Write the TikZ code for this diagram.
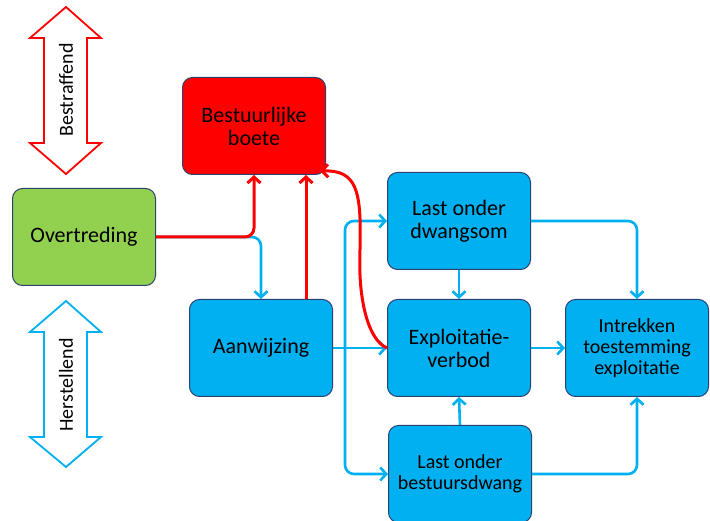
\documentclass[tikz,border=0pt]{standalone}
\usepackage{fontspec}
\setmainfont{Carlito}
\usetikzlibrary{arrows.meta}
\definecolor{rood}{HTML}{FF0000}
\definecolor{cyaan}{HTML}{00B0F0}
\definecolor{groen}{HTML}{92D050}
\definecolor{rand}{HTML}{2B4170}

\begin{document}
\begin{tikzpicture}[x=1pt, y=-1pt,
  blok/.style={draw=rand, line width=1pt, rounded corners=10pt, minimum width=143pt,
    minimum height=97pt, align=center, inner sep=0pt, font=\fontsize{22}{23}\selectfont},
  klein/.style={font=\fontsize{20}{21}\selectfont},
  roodpijl/.style={draw=rood, line width=3pt, rounded corners=9pt,
    -{Straight Barb[length=6pt,width=13pt]}},
  blauwpijl/.style={draw=cyaan, line width=2.6pt, rounded corners=9pt,
    -{Straight Barb[length=6pt,width=13pt]}},
  dubbel/.style={line width=1.8pt, fill=white, line join=miter},
  zijtekst/.style={rotate=90, font=\fontsize{20}{22}\selectfont}]
\useasboundingbox (0,0) rectangle (710,521);

\draw[dubbel, draw=rood] (66,7) -- (101,38) -- (87,38) -- (87,143) -- (101,143)
  -- (66,174) -- (30,143) -- (44,143) -- (44,38) -- (30,38) -- cycle;
\node[zijtekst] (bestraffend) at (66,90) {Bestraffend};
\draw[dubbel, draw=cyaan] (66,301) -- (101,332) -- (87,332) -- (87,437) -- (101,437)
  -- (66,467) -- (30,437) -- (44,437) -- (44,332) -- (30,332) -- cycle;
\node[zijtekst] (herstellend) at (66,385) {Herstellend};

\node[blok, fill=rood] (boete) at (254,126) {Bestuurlijke\\boete};
\node[blok, fill=groen] (overtreding) at (84,237) {Overtreding};
\node[blok, fill=cyaan] (aanwijzing) at (261,348) {Aanwijzing};
\node[blok, fill=cyaan] (dwangsom) at (459,221) {Last onder\\dwangsom};
\node[blok, fill=cyaan] (verbod) at (459,348) {Exploitatie-\\verbod};
\node[blok, klein, fill=cyaan] (bestuursdwang) at (460,474) {Last onder\\bestuursdwang};
\node[blok, klein, fill=cyaan] (intrekken) at (637,348) {Intrekken\\toestemming\\exploitatie};
\coordinate (splitsing) at (345,348);
\coordinate (boetehoek) at (320,171);

\draw[blauwpijl] (overtreding.east) -| (aanwijzing.north);
\draw[blauwpijl] (aanwijzing.east) -- (verbod.west);
\draw[blauwpijl] (splitsing) |- (dwangsom.west);
\draw[blauwpijl] (splitsing) |- (bestuursdwang.west);
\draw[blauwpijl] (dwangsom.south) -- (verbod.north);
\draw[blauwpijl] (bestuursdwang.north) -- (verbod.south);
\draw[blauwpijl] (verbod.east) -- (intrekken.west);
\draw[blauwpijl] (dwangsom.east) -| (intrekken.north);
\draw[blauwpijl] (bestuursdwang.east) -| (intrekken.south);

\draw[roodpijl] (overtreding.east) -| (boete.south);
\draw[roodpijl] ([xshift=45]aanwijzing.north) -- ([xshift=45]aanwijzing.north |- boete.south);
\draw[roodpijl] (verbod.west) .. controls (368,340) and (359,300) .. (360,250)
  .. controls (361,190) and (356,170) .. (boetehoek);
\end{tikzpicture}
\end{document}
